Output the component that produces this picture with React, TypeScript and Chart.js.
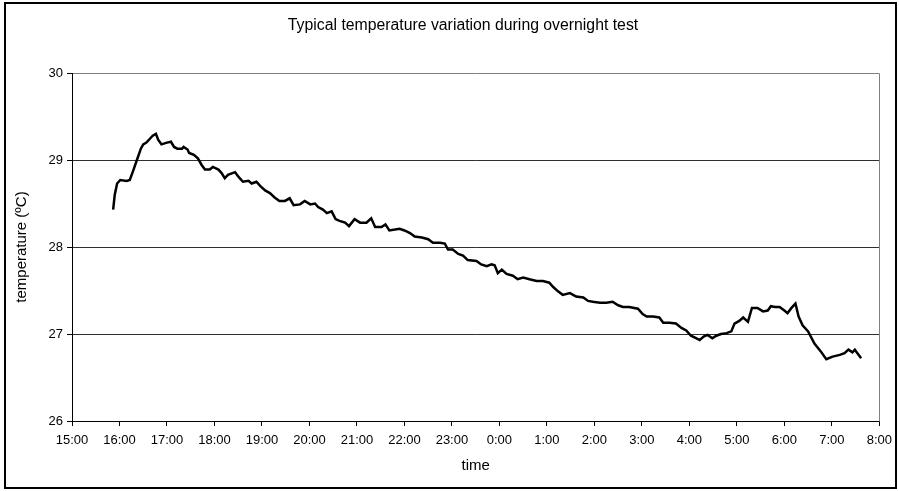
import React, { useEffect, useRef } from "react";
import { Chart, registerables } from "chart.js";

Chart.register(...registerables);

const chartTitle = "Typical temperature variation during overnight test";
const xAxisTitle = "time";
const yAxisTitle = "temperature (ºC)";

// minutes after 15:00
const minutes = [
  52, 54, 57, 61, 69, 73, 77, 82, 87, 90, 94, 99, 102, 106, 109, 113, 120, 125, 129, 133, 139, 141, 146, 148, 154, 159, 164, 168, 174, 178, 185, 189, 193, 197,
  206, 211, 216, 223, 227, 233, 238, 244, 250, 256, 262, 269, 275, 280, 288, 294, 301, 307, 311, 317, 322, 328, 333, 338, 345, 350,
  357, 364, 372, 378, 383, 391, 396, 401, 408, 414, 420, 427, 433, 442, 450, 456, 465, 471, 475, 481, 488, 494, 500,
  511, 517, 524, 530, 534, 538, 543, 549, 557, 563, 570, 578, 587, 595, 603, 608, 614, 620, 629, 637, 646, 652,
  658, 667, 675, 683, 690, 696, 704, 715, 721, 726, 734, 742, 747, 755, 763, 770, 776, 782, 789, 793, 798, 803, 809, 814, 820, 827,
  833, 837, 843, 848, 854, 859, 866, 873, 879, 883, 888, 894, 900, 904, 909, 914, 918, 923, 930, 938, 946, 953, 961, 970, 976, 981, 986, 989, 993, 997,
];

const temperatures = [
  28.43, 28.6, 28.73, 28.77, 28.76, 28.77, 28.87, 29.0, 29.13, 29.18, 29.2, 29.25, 29.28, 29.3, 29.23, 29.18, 29.2, 29.21, 29.15, 29.13, 29.13, 29.15, 29.12, 29.08, 29.06, 29.02, 28.94, 28.89, 28.89, 28.92, 28.89, 28.85, 28.79, 28.83,
  28.86, 28.8, 28.75, 28.76, 28.73, 28.75, 28.7, 28.65, 28.62, 28.57, 28.53, 28.53, 28.56, 28.48, 28.49, 28.53, 28.49, 28.5, 28.46, 28.43, 28.39, 28.41, 28.32, 28.3, 28.28, 28.24,
  28.32, 28.28, 28.28, 28.33, 28.23, 28.23, 28.26, 28.19, 28.2, 28.21, 28.19, 28.16, 28.12, 28.11, 28.09, 28.05, 28.05, 28.04, 27.97, 27.97, 27.92, 27.9, 27.85,
  27.84, 27.8, 27.78, 27.8, 27.79, 27.7, 27.74, 27.69, 27.67, 27.63, 27.65, 27.63, 27.61, 27.61, 27.59, 27.54, 27.49, 27.45, 27.47, 27.43, 27.42, 27.38,
  27.37, 27.36, 27.36, 27.37, 27.33, 27.31, 27.31, 27.29, 27.23, 27.2, 27.2, 27.19, 27.13, 27.13, 27.12, 27.07, 27.04, 26.98, 26.95, 26.93, 26.97, 26.99, 26.95, 26.98, 27.0, 27.01,
  27.03, 27.12, 27.15, 27.19, 27.14, 27.3, 27.3, 27.26, 27.27, 27.32, 27.31, 27.31, 27.27, 27.24, 27.3, 27.35, 27.2, 27.1, 27.03, 26.89, 26.8, 26.71, 26.74, 26.76, 26.78, 26.82, 26.79, 26.82, 26.77, 26.72,
];

const startHour = 15;
const xMinMinutes = 0;
const xMaxMinutes = 1020;
const yMin = 26;
const yMax = 30;

const W = 899;
const H = 491;
const FONT = "Arial, 'Liberation Sans', sans-serif";

const framePlugin = {
  id: "frame",
  beforeDraw(chart: any) {
    const ctx = chart.ctx;
    ctx.save();
    ctx.fillStyle = "#ffffff";
    ctx.fillRect(0, 0, chart.width, chart.height);
    ctx.strokeStyle = "#000000";
    ctx.lineWidth = 2;
    ctx.strokeRect(5, 3, chart.width - 8, chart.height - 6);
    // chart title, centred on the whole frame
    ctx.fillStyle = "#000";
    ctx.font = `15.8px ${FONT}`;
    ctx.textAlign = "center";
    ctx.textBaseline = "middle";
    ctx.fillText(chartTitle, 463, 26);
    ctx.restore();
  },
  beforeDatasetsDraw(chart: any) {
    const { ctx, chartArea } = chart;
    ctx.save();
    ctx.strokeStyle = "#808080";
    ctx.lineWidth = 1;
    ctx.beginPath();
    const r = Math.round(chartArea.right) + 0.5;
    ctx.moveTo(r, Math.round(chartArea.top) + 0.5);
    ctx.lineTo(r, Math.round(chartArea.bottom) + 0.5);
    ctx.stroke();
    ctx.restore();
  },
};

export default function App() {
  const ref = useRef<HTMLCanvasElement | null>(null);

  useEffect(() => {
    if (!ref.current) return;
    const n = Math.min(minutes.length, temperatures.length);
    const points = [];
    for (let i = 0; i < n; i++) points.push({ x: minutes[i], y: temperatures[i] });

    const chart = new Chart(ref.current, {
      type: "line",
      data: {
        datasets: [
          {
            data: points,
            borderColor: "#000000",
            borderWidth: 2.5,
            pointRadius: 0,
            tension: 0,
            fill: false,
          },
        ],
      },
      options: {
        animation: false,
        responsive: false,
        devicePixelRatio: 1,
        layout: { padding: { left: 0, right: 19, top: 73, bottom: 0 } },
        plugins: {
          legend: { display: false },
          tooltip: { enabled: false },
          title: { display: false },
        },
        scales: {
          x: {
            type: "linear",
            min: xMinMinutes,
            max: xMaxMinutes,
            afterFit(scale: any) {
              scale.height = 70;
            },
            ticks: {
              stepSize: 60,
              autoSkip: false,
              maxRotation: 0,
              color: "#000",
              padding: 7,
              font: { family: FONT, size: 13 },
              callback: (v: any) => `${(startHour + Math.round(Number(v) / 60)) % 24}:00`,
            },
            grid: {
              drawOnChartArea: false,
              drawTicks: true,
              tickLength: 5,
              tickColor: "#000",
            },
            border: { display: true, color: "#000", width: 1 },
            title: {
              display: true,
              text: xAxisTitle,
              color: "#000",
              font: { family: FONT, size: 15 },
              padding: { top: 0, bottom: 16 },
            },
          },
          y: {
            type: "linear",
            min: yMin,
            max: yMax,
            afterFit(scale: any) {
              scale.width = 72;
            },
            ticks: {
              stepSize: 1,
              color: "#000",
              padding: 4,
              font: { family: FONT, size: 13 },
            },
            grid: {
              color: (c: any) => (c.tick && c.tick.value === yMax ? "#808080" : "#303030"),
              lineWidth: 1,
              drawTicks: true,
              tickLength: 5,
              tickColor: "#000",
            },
            border: { display: true, color: "#000", width: 1 },
            title: {
              display: true,
              text: yAxisTitle,
              color: "#000",
              font: { family: FONT, size: 15 },
              padding: { top: 13, bottom: 0 },
            },
          },
        },
      },
      plugins: [framePlugin],
    } as any);

    return () => chart.destroy();
  }, []);

  return (
    <div style={{ position: "fixed", left: 0, top: 0, width: W, height: H, background: "#fff" }}>
      <canvas ref={ref} width={W} height={H} style={{ width: W, height: H, display: "block" }} />
    </div>
  );
}
